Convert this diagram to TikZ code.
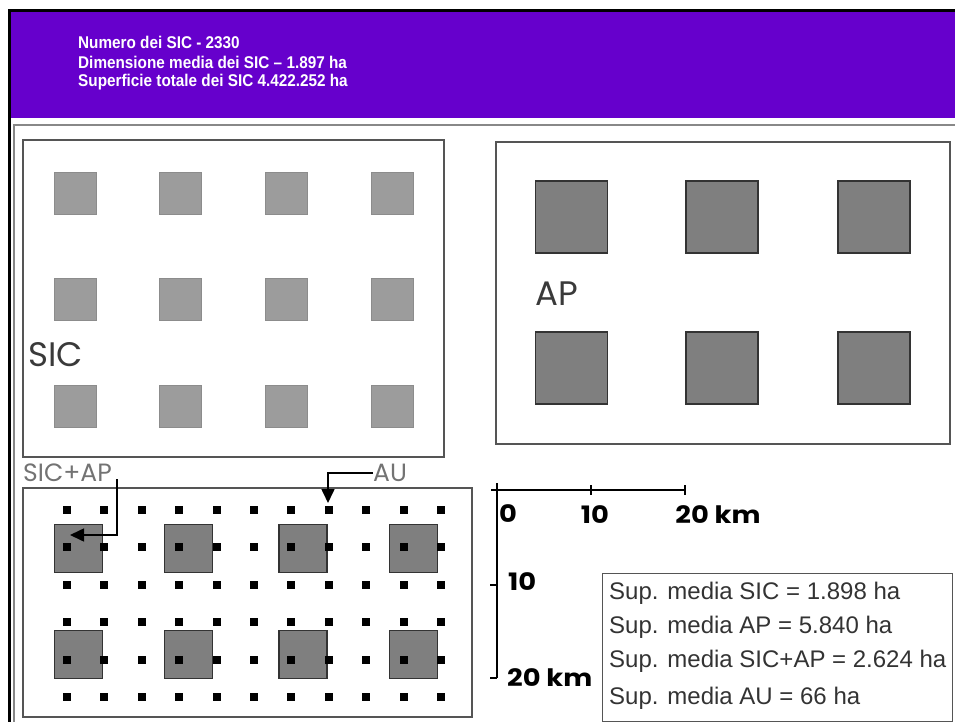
\documentclass[tikz,border=0pt]{standalone}
\usepackage{fontspec}
\setmainfont{Liberation Sans}
\newfontfamily\gothic{Poppins}
\newfontfamily\widegothic[FakeStretch=1.14]{Poppins}
\newfontfamily\narrowsans[FakeStretch=0.9]{Liberation Sans}
\usetikzlibrary{arrows.meta}

\definecolor{header}{HTML}{6600CC}
\definecolor{sicgray}{HTML}{9C9C9C}
\definecolor{apgray}{HTML}{7F7F7F}
\definecolor{boxline}{HTML}{555555}
\definecolor{labelgray}{HTML}{3A3A3A}

\tikzset{
  area/.style={draw=boxline, line width=1.6pt, inner sep=0pt, outer sep=0pt},
  sicsq/.style={fill=sicgray, draw=sicgray!90!black, line width=0.6pt, minimum size=42pt, inner sep=0pt},
  apsq/.style={fill=apgray, draw=black!80, line width=1.6pt, minimum size=72pt, inner sep=0pt},
  mixsq/.style={fill=apgray, draw=black!80, line width=1.6pt, minimum size=48pt, inner sep=0pt},
  dot/.style={fill=black, minimum size=8pt, inner sep=0pt},
  maplabel/.style={font=\gothic\fontsize{34}{34}\selectfont, text=labelgray, inner sep=0pt},
  smalllabel/.style={font=\gothic\fontsize{25}{25}\selectfont, text=black!55, inner sep=0pt},
  scalelabel/.style={font=\widegothic\bfseries\fontsize{24}{24}\selectfont, inner sep=0pt},
  legendline/.style={font=\fontsize{24}{24}\selectfont, text=black!80, anchor=west, inner sep=0pt},
  headline/.style={font=\narrowsans\bfseries\fontsize{17}{17}\selectfont, text=white, anchor=west, inner sep=0pt},
  pointer/.style={line width=1.6pt, -{Triangle[length=14pt, width=13pt]}},
}

\begin{document}
\begin{tikzpicture}[x=1pt, y=-1pt]
\useasboundingbox (0,0) rectangle (955,722);

% frame and header
\fill[header] (10,12) rectangle (955,118);
\draw[line width=3pt] (8,11) -- (955,11);
\draw[line width=3pt] (9,10) -- (9,722);
\draw[boxline!70, line width=1.6pt] (14,722) -- (14,125) -- (955,125);

\node[headline] (hnum) at (78,42) {Numero dei SIC - 2330};
\node[headline] (hdim) at (78,62) {Dimensione media dei SIC – 1.897 ha};
\node[headline] (hsup) at (78,82) {Superficie totale dei SIC 4.422.252 ha};

% SIC
\node[area, minimum width=421pt, minimum height=317pt] (sicbox) at (233.5,298.5) {};
\foreach \i/\x in {1/75,2/180,3/286,4/392}
  \foreach \j/\y in {1/193,2/299,3/406}
    \node[sicsq] (sic-\i-\j) at (\x,\y) {};
\node[maplabel, anchor=west] (siclab) at (28,355) {SIC};

% AP
\node[area, minimum width=454pt, minimum height=302pt] (apbox) at (723,293) {};
\foreach \i/\x in {1/571.5,2/722,3/874}
  \foreach \j/\y in {1/217,2/368}
    \node[apsq] (ap-\i-\j) at (\x,\y) {};
\node[maplabel, anchor=west] (aplab) at (535,294) {AP};

% SIC+AP and AU
\node[area, minimum width=449pt, minimum height=229pt] (aubox) at (247.5,602.5) {};
\foreach \i/\x in {1/78.5,2/188.5,3/303,4/413.5}
  \foreach \j/\y in {1/548.5,2/654.5}
    \node[mixsq] (mix-\i-\j) at (\x,\y) {};
\foreach \i in {0,...,10}
  \foreach \j in {0,...,5}
    \node[dot] (au-\i-\j) at (67+37.4*\i,510+37.4*\j) {};

\node[smalllabel, anchor=west] (sicaplab) at (23,473) {SIC+AP};
\node[smalllabel, anchor=west] (aulab) at (373,473) {AU};
\coordinate (sicapend) at (70,535);
\coordinate (auend) at (328,503);
\draw[pointer] (117,479) |- (sicapend);
\draw[pointer] (aulab.west) -| (auend);

% scale
\draw[line width=1.6pt] (491,490) -- (685,490);
\draw[line width=1.6pt] (497,483) -- (497,678);
\draw[line width=1.2pt] (591,485) -- (591,495);
\draw[line width=1.2pt] (685,485) -- (685,495);
\draw[line width=1.2pt] (490,585) -- (497,585);
\draw[line width=1.2pt] (490,678) -- (497,678);
\node[scalelabel, anchor=west] (s0) at (499,514) {0};
\node[scalelabel] (s10) at (595,515) {10};
\node[scalelabel] (s20) at (718,515) {20 km};
\node[scalelabel, anchor=west] (v10) at (508,582) {10};
\node[scalelabel, anchor=west] (v20) at (507,678) {20 km};

% legend
\node[draw=boxline, line width=1.2pt, minimum width=350pt, minimum height=148pt, inner sep=0pt, anchor=north west] (legend) at (602,573) {};
\node[legendline] (lsic) at (609,593) {Sup. media SIC = 1.898 ha};
\node[legendline] (lap) at (609,627) {Sup. media AP = 5.840 ha};
\node[legendline] (lmix) at (609,661) {Sup. media SIC+AP = 2.624 ha};
\node[legendline] (lau) at (609,698) {Sup. media AU = 66 ha};
\end{tikzpicture}
\end{document}
